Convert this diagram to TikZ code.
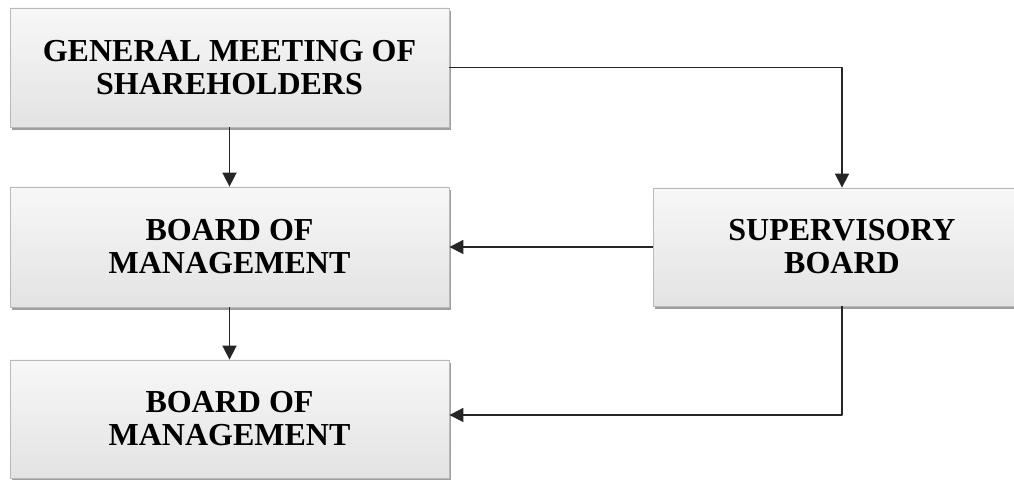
\documentclass[tikz,border=0pt]{standalone}
\usepackage{fontspec}
\setmainfont{Liberation Serif}
\usepackage{tikz}
\usetikzlibrary{arrows.meta,shadows,calc}

\begin{document}
\begin{tikzpicture}[x=0.5pt, y=-0.5pt, >={Triangle[length=7pt,width=7pt]}, line join=round,
  orgbox/.style={draw=gray!55, line width=0.4pt, top color=gray!6, bottom color=gray!22,
    drop shadow={shadow xshift=1pt, shadow yshift=-1.3pt, fill=gray!75, opacity=1},
    align=center, inner sep=0pt, font=\bfseries\fontsize{16}{16.5}\selectfont,
    minimum width=219.5pt},
  link/.style={line width=0.85pt, black!85}]
  \useasboundingbox (0,0) rectangle (1014,480);
  \node[orgbox, minimum height=59.5pt] (gms) at (229.5,67.5) {GENERAL MEETING OF\\SHAREHOLDERS};
  \node[orgbox, minimum height=60pt] (bom) at (229.5,247) {BOARD OF\\MANAGEMENT};
  \node[orgbox, minimum height=59pt] (bomb) at (229.5,419) {BOARD OF\\MANAGEMENT};
  \node[orgbox, minimum height=59pt, minimum width=189pt] (sb) at (842,247) {SUPERVISORY\\BOARD};
  \draw[link,->] (gms.east) -| (sb.north);
  \draw[link,->] (gms.south) -- (bom.north);
  \draw[link,->] (sb.west) -- (bom.east);
  \draw[link,->] (bom.south) -- (bomb.north);
  \draw[link,->] (sb.south) |- ($(bomb.east)+(0,-4)$);
\end{tikzpicture}
\end{document}
